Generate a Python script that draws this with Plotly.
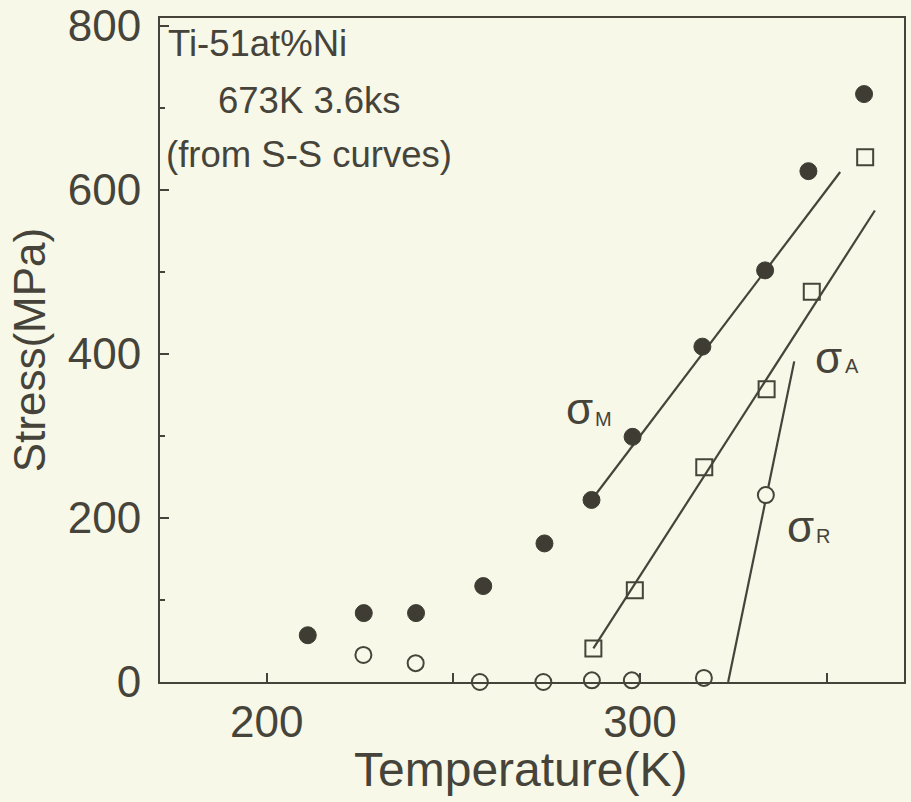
import plotly.graph_objects as go

# ---- data ----
temp_M = [211, 226, 240, 258, 274.4, 287, 298, 316.7, 333.5, 345.1, 360]
stress_M = [57, 84, 84, 117, 169, 222, 299, 409, 502, 623, 717]

temp_A = [287.5, 298.6, 317.2, 333.9, 346.0, 360.3]
stress_A = [41, 112, 262, 357, 476, 640]

temp_R = [225.9, 239.9, 257.1, 274.1, 287.1, 297.8, 317.1, 333.7]
stress_R = [33, 23, 0, 0, 2, 2, 5, 228]

# fitted straight lines (end points)
fitM_T = [287.0, 353.6]
fitM_S = [222, 622]
fitA_T = [287.5, 362.9]
fitA_S = [41, 575]
fitR_T = [323.6, 341.3]
fitR_S = [0, 391]

x_ticks = [200, 250, 300, 350]
x_ticktext = ["200", "", "300", ""]
y_ticks = [0, 200, 400, 600, 800]

INK = "#46443a"
BG = "#f7f8e7"
FONT = "Liberation Sans, Arial, Helvetica, sans-serif"

fig = go.Figure()

line_style = dict(color=INK, width=2.2)
for tx, sy in [(fitM_T, fitM_S), (fitA_T, fitA_S), (fitR_T, fitR_S)]:
    fig.add_trace(go.Scatter(x=tx, y=sy, mode="lines", line=line_style,
                             showlegend=False, hoverinfo="skip", cliponaxis=False))

fig.add_trace(go.Scatter(x=temp_M, y=stress_M, mode="markers", showlegend=False,
                         marker=dict(symbol="circle", size=17, color="#3f3d33",
                                     line=dict(color="#3f3d33", width=1)),
                         cliponaxis=False))
fig.add_trace(go.Scatter(x=temp_A, y=stress_A, mode="markers", showlegend=False,
                         marker=dict(symbol="square-open", size=16, color=INK,
                                     line=dict(color=INK, width=2)),
                         cliponaxis=False))
fig.add_trace(go.Scatter(x=temp_R, y=stress_R, mode="markers", showlegend=False,
                         marker=dict(symbol="circle", size=16, color=BG,
                                     line=dict(color=INK, width=2)),
                         cliponaxis=False))

annots = []
# sigma labels: big sigma + small subscript
for (xs, ys, xsub, ysub, sub) in [
    (283.9, 333.5, 290.2, 320.7, "M"),
    (350.6, 395.7, 356.7, 384.8, "A"),
    (343.0, 190.2, 348.9, 178, "R"),
]:
    annots.append(dict(x=xs, y=ys, xref="x", yref="y", text="σ", showarrow=False,
                       font=dict(family=FONT, size=44, color=INK),
                       xanchor="center", yanchor="middle"))
    annots.append(dict(x=xsub, y=ysub, xref="x", yref="y", text=sub, showarrow=False,
                       font=dict(family=FONT, size=20, color=INK),
                       xanchor="center", yanchor="middle"))

for txt, xp, yp in [("Ti-51at%Ni", 0.008, 0.9623),
                    ("673K 3.6ks", 0.075, 0.8757),
                    ("(from S-S curves)", 0.005, 0.7937)]:
    annots.append(dict(x=xp, y=yp, xref="paper", yref="paper", text=txt,
                       showarrow=False, xanchor="left", yanchor="middle",
                       font=dict(family=FONT, size=36.5, color=INK)))

# x-axis title
annots.append(dict(x=0.484, y=-0.1325, xref="paper", yref="paper",
                   text="Temperature(K)", showarrow=False,
                   xanchor="center", yanchor="middle",
                   font=dict(family=FONT, size=48, color=INK)))

fig.update_layout(
    width=911, height=802,
    margin=dict(l=160, r=7, t=18, b=120),
    paper_bgcolor=BG, plot_bgcolor=BG,
    font=dict(family=FONT, color=INK),
    annotations=annots,
    showlegend=False,
)

fig.update_xaxes(
    range=[171.42, 370.7], showgrid=False, zeroline=False, automargin=False,
    showline=True, linecolor=INK, linewidth=2, mirror=True,
    ticks="inside", ticklen=9, tickwidth=2, tickcolor=INK,
    tickvals=x_ticks, ticktext=x_ticktext,
    tickfont=dict(family=FONT, size=44, color=INK),
    ticklabelstandoff=0,
)
fig.update_yaxes(
    range=[0, 809.8], showgrid=False, zeroline=False, automargin=False,
    showline=True, linecolor=INK, linewidth=2, mirror=True,
    ticks="inside", ticklen=9, tickwidth=2, tickcolor=INK,
    tickvals=y_ticks, ticklabeloverflow="allow",
    minor=dict(tickvals=[100, 300, 500, 700], ticks="inside", ticklen=5,
               tickwidth=2, tickcolor=INK),
    tickfont=dict(family=FONT, size=44, color=INK),
    ticklabelstandoff=8,
    title=dict(text="Stress(MPa)", font=dict(family=FONT, size=44, color=INK),
               standoff=8),
)

fig.write_html("out.html")
